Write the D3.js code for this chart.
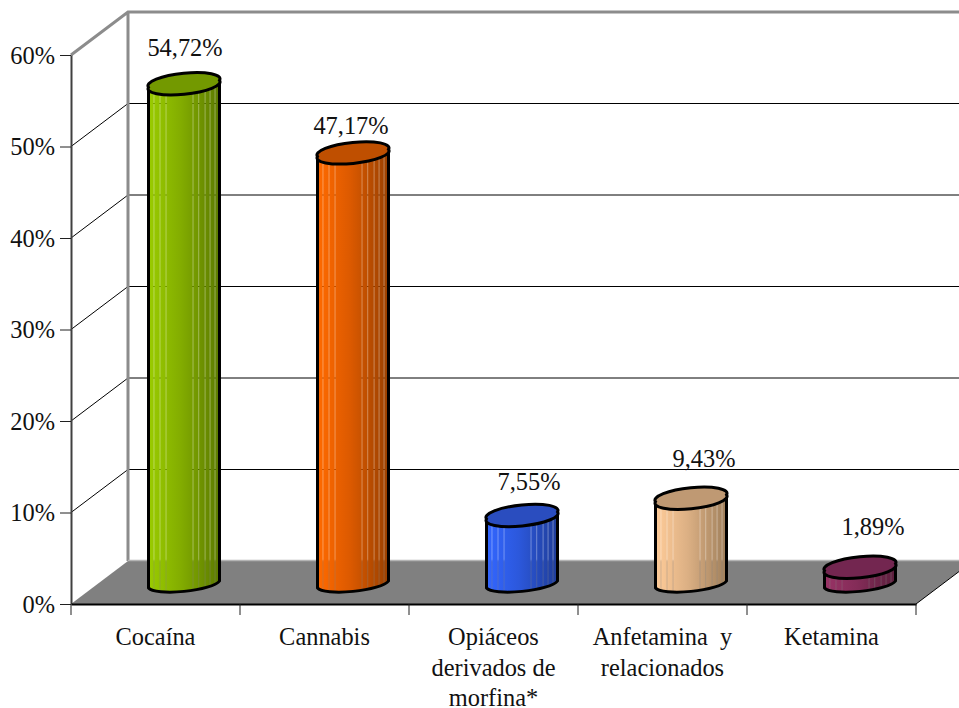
<!DOCTYPE html>
<html><head><meta charset="utf-8">
<script src="https://cdn.jsdelivr.net/npm/d3@7"></script>
<style>html,body{margin:0;padding:0;background:#fff;overflow:hidden}
text{font-family:"Liberation Serif",serif;font-size:24.4px;fill:#111;white-space:pre}</style>
</head><body><svg id="c" width="959" height="708"></svg>
<script>
const categories=["Cocaína","Cannabis","Opiáceos derivados de morfina*","Anfetamina  y relacionados","Ketamina"];
const categoryLines=[["Cocaína"],["Cannabis"],["Opiáceos","derivados de","morfina*"],["Anfetamina  y","relacionados"],["Ketamina"]];
const values=[54.72,47.17,7.55,9.43,1.89];
const valueLabels=["54,72%","47,17%","7,55%","9,43%","1,89%"];
const yTicks=[0,10,20,30,40,50,60];
const lightColors=["#9acc00","#ff6a00","#3366ff","#ffcc99","#993366"];
const midColors=["#83ad00","#dd5a00","#2c58dc","#dcb084","#842c58"];
const darkColors=["#5c7a00","#994000","#1f3d99","#a0805c","#5c1f3d"];
const topColors=["#739900","#bf4f00","#2a4dbf","#bf9973","#732650"];
const labelDx=[1,-2,7,13,13];
const labelDy=[-28,-18.5,-25,-31,-32];
const seams=[.07,.155,.24,.62,.70,.79,.86,.93];

const svg=d3.select("#c"),W=959;
const x=d3.scaleBand().domain(categories).range([71,916]);
const y=d3.scaleLinear().domain([0,60]).range([604,55]);
const dX=57,dY=43;
const barW=71,rx=36.2,ry=8.25,rot=-5.9,ex=35.5,ey=3.5;
const baseY=584.5;
const defs=svg.append("defs");

// walls & floor
svg.append("path").attr("fill","#fff")
  .attr("d",`M${x.range()[0]},${y(0)}V${y(60)}L${x.range()[0]+dX},${y(60)-dY}V${y(0)-dY}Z`);
svg.append("path").attr("fill","#808080")
  .attr("d",`M${x.range()[0]},${y(0)}L${x.range()[0]+dX},${y(0)-dY}H${x.range()[1]+dX}L${x.range()[1]},${y(0)}Z`);
// grid
const grid=svg.append("g").attr("fill","none").attr("stroke","#000").attr("stroke-width",1);
yTicks.filter(t=>t>0&&t<60).forEach(t=>{
  grid.append("path").attr("d",`M${x.range()[0]},${y(t)}L${x.range()[0]+dX},${y(t)-dY}H${W}`);
});
// wall outline
svg.append("path").attr("fill","none").attr("stroke","#8c8c8c").attr("stroke-width",3)
  .attr("d",`M${x.range()[0]},${y(60)}L${x.range()[0]+dX},${y(60)-dY}H${W}M${x.range()[0]+dX},${y(60)-dY}V${y(0)-dY}`);
svg.append("path").attr("fill","none").attr("stroke","#b4b4b4").attr("stroke-width",1.5)
  .attr("d",`M${x.range()[0]+dX},${y(0)-dY-.5}H${W}`);
svg.append("path").attr("fill","none").attr("stroke","#000").attr("stroke-width",1)
  .attr("d",`M${x.range()[1]},${y(0)}L${x.range()[1]+dX},${y(0)-dY}`);

// axes
const gy=svg.append("g").attr("transform",`translate(${x.range()[0]},0)`)
  .call(d3.axisLeft(y).tickValues(yTicks).tickFormat(d=>d+"%").tickSize(11).tickSizeOuter(0).tickPadding(5));
gy.select(".domain").attr("stroke","#404040").attr("stroke-width",2);
gy.selectAll(".tick line").attr("stroke","#202020");
gy.selectAll("text").attr("font-size",null).attr("font-family",null).attr("dy",null).attr("y",8);
const gx=svg.append("g").attr("transform",`translate(0,${y(0)})`)
  .call(d3.axisBottom(x).tickSize(0).tickFormat(""));
gx.select(".domain").attr("stroke","#000").attr("stroke-width",2);
gx.selectAll(".tick").remove();
[...categories.map(c=>x(c)),x.range()[1]].forEach(v=>{
  gx.append("line").attr("x1",v).attr("x2",v).attr("y1",0).attr("y2",11).attr("stroke","#202020");
});
categories.forEach((c,i)=>{
  categoryLines[i].forEach((l,j)=>{
    svg.append("text").attr("x",x(c)+x.bandwidth()/2).attr("y",645+j*30.5).attr("text-anchor","middle").text(l);
  });
});

// cylinders
categories.forEach((c,i)=>{
  const cx=x(c)+x.bandwidth()/2+dX/2;
  const h=y(0)-y(values[i]);
  const ty=baseY-h;
  const id="g"+i;
  const g=defs.append("linearGradient").attr("id",id);
  g.append("stop").attr("offset",0).attr("stop-color",lightColors[i]);
  g.append("stop").attr("offset",.45).attr("stop-color",midColors[i]);
  g.append("stop").attr("offset",1).attr("stop-color",darkColors[i]);
  const m=defs.append("mask").attr("id","m"+i).attr("maskUnits","userSpaceOnUse")
    .attr("x",cx-40).attr("y",ty-15).attr("width",80).attr("height",h+40);
  m.append("rect").attr("x",cx-40).attr("y",ty-15).attr("width",80).attr("height",h+40).attr("fill","#fff");
  seams.forEach(s=>m.append("rect").attr("x",cx-barW/2+s*barW).attr("y",ty-15).attr("width",1).attr("height",h+40).attr("fill","#a8a8a8"));
  const body=`M${cx-ex},${ty+ey}L${cx-ex},${baseY+ey}A${rx},${ry} ${rot} 0 0 ${cx+ex},${baseY-ey}L${cx+ex},${ty-ey}A${rx},${ry} ${rot} 0 1 ${cx-ex},${ty+ey}Z`;
  svg.append("path").attr("d",body).attr("fill",`url(#${id})`).attr("mask",`url(#m${i})`);
  svg.append("path").attr("d",body).attr("fill","none").attr("stroke","#000").attr("stroke-width",3).attr("stroke-linejoin","round");
  svg.append("path")
    .attr("d",`M${cx-ex},${ty+ey}A${rx},${ry+.7} ${rot} 1 1 ${cx+ex},${ty-ey}A${rx},${ry+.7} ${rot} 1 1 ${cx-ex},${ty+ey}Z`)
    .attr("fill",topColors[i]).attr("stroke","#000").attr("stroke-width",3);
  svg.append("text").attr("x",cx+labelDx[i]).attr("y",ty+labelDy[i]).attr("text-anchor","middle").text(valueLabels[i]);
});
</script></body></html>
